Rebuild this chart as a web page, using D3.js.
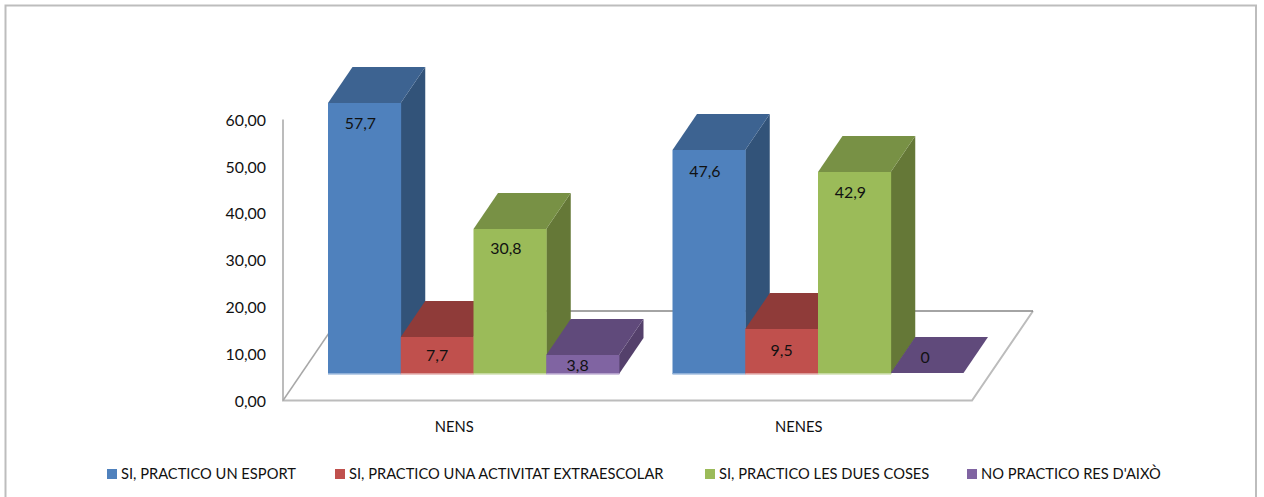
<!DOCTYPE html>
<html><head><meta charset="utf-8">
<script src="https://cdn.jsdelivr.net/npm/d3@7"></script>
<style>html,body{margin:0;padding:0;background:#fff;overflow:hidden}svg{display:block}text{font-family:Lato,"Open Sans",sans-serif;fill:#111}</style>
</head><body>
<svg id="c" width="1264" height="497"></svg>
<script>
const categories = ["NENS", "NENES"];
const seriesNames = ["SI, PRACTICO UN ESPORT", "SI, PRACTICO UNA ACTIVITAT EXTRAESCOLAR", "SI, PRACTICO LES DUES COSES", "NO PRACTICO RES D'AIXÒ"];
const nens = [57.7, 7.7, 30.8, 3.8];
const nenes = [47.6, 9.5, 42.9, 0];
const valueLabels = [["57,7", "7,7", "30,8", "3,8"], ["47,6", "9,5", "42,9", "0"]];
const yTicks = [0, 10, 20, 30, 40, 50, 60];
const frontColors = ["#4f81bd", "#c0504d", "#9bbb59", "#8064a2"];
const topColors = ["#3d6391", "#8f3b39", "#789145", "#604a7b"];
const sideColors = ["#325379", "#7a3230", "#657837", "#54406b"];
const baseColors = ["#8fb0d8", "#dc9c9a", "#c5d99f", "#b3a0cb"];

const svg = d3.select("#c");
const fl = {left: 283, right: 972, bottom: 400.5};
const depth = {dx: 24.5, dy: 36};          // bar depth
const floorDepth = {dx: 61, dy: 89.5};     // floor depth
const lift = 26.5;                          // bar base above the floor front edge

const y = d3.scaleLinear().domain([0, 60]).range([400.5, 119.5]);
const x0 = d3.scaleBand().domain(categories).range([fl.left, fl.right]);
const x1 = d3.scaleBand().domain(d3.range(4)).range([45, 336]);

// outer frame
svg.append("path").attr("d", "M5.5,497V5.5H1256V497").attr("fill", "none").attr("stroke", "#bdbdbd").attr("stroke-width", 2);

// walls and floor
const wall = svg.append("g").attr("fill", "none");
wall.append("path").attr("d", `M${fl.left},${y(60)}V${fl.bottom}H${fl.right}L${fl.right + floorDepth.dx},${fl.bottom - floorDepth.dy}`).attr("stroke", "#bcbcbc").attr("stroke-width", 2);
wall.append("path").attr("d", `M${fl.left},${fl.bottom}L${fl.left + floorDepth.dx},${fl.bottom - floorDepth.dy}`).attr("stroke", "#a8a8a8").attr("stroke-width", 1.5);
wall.append("path").attr("d", `M${fl.left + floorDepth.dx},${fl.bottom - floorDepth.dy}H${fl.right + floorDepth.dx}`).attr("stroke", "#868686").attr("stroke-width", 1.6);

// axes
const fmt = d3.formatLocale({decimal: ",", thousands: ".", grouping: [3], currency: ["", ""]}).format(".2f");
const yAxis = svg.append("g").attr("transform", "translate(270,0)")
  .call(d3.axisLeft(y).tickValues(yTicks).tickFormat(fmt).tickSize(0).tickPadding(4));
yAxis.select(".domain").remove();
yAxis.selectAll("text").attr("font-size", 15.9).attr("dy", "0.36em");

const xAxis = svg.append("g").attr("transform", "translate(-1,420)")
  .call(d3.axisBottom(x0).tickSize(0).tickPadding(0));
xAxis.select(".domain").remove();
xAxis.selectAll("text").attr("font-size", 14.7).attr("dy", "0.8em");

// bars
const data = [nens, nenes];
const labelDx = [-4, 0, -4, -5];
const labelDy = [20, 17, 19, 9];
categories.forEach((c, ci) => {
  const g = svg.append("g");
  data[ci].forEach((v, si) => {
    const xl = x0(c) + x1(si), w = x1.bandwidth(), xr = xl + w;
    const base = Math.round(y(0) - lift), top = Math.floor(y(v) - lift - 0.5);
    const b = g.append("g");
    if (v > 0) {
      b.append("path").attr("d", `M${xr},${top}l${depth.dx},${-depth.dy}V${base - depth.dy}L${xr},${base}Z`).attr("fill", sideColors[si]);
      b.append("rect").attr("x", xl).attr("y", top).attr("width", w + .4).attr("height", base - top).attr("fill", frontColors[si]);
      b.append("rect").attr("x", xl).attr("y", base - 1).attr("width", w + .4).attr("height", 1.6).attr("fill", baseColors[si]);
    }
    b.append("path").attr("d", `M${xl},${top}l${depth.dx},${-depth.dy}H${xr + depth.dx}L${xr},${top}Z`).attr("fill", topColors[si]);
  });
  data[ci].forEach((v, si) => {
    const cx = x0(c) + x1(si) + x1.bandwidth() / 2;
    const dyv = v === 0 ? -17 : (ci === 1 && si === 1 ? 21 : labelDy[si]);
    const dxv = v === 0 ? -2 : (ci === 1 && si === 1 ? 0 : labelDx[si]);
    svg.append("text").attr("x", cx + dxv).attr("y", y(v) - lift + dyv).attr("dy", "0.36em")
      .attr("text-anchor", "middle").attr("font-size", 15.9).text(valueLabels[ci][si]);
  });
});

// legend
const legendX = d3.scaleOrdinal().domain(seriesNames).range([107, 335, 705, 967]);
const leg = svg.append("g");
seriesNames.forEach((s, i) => {
  leg.append("rect").attr("x", legendX(s)).attr("y", 469).attr("width", 10).attr("height", 10).attr("fill", frontColors[i]);
  leg.append("text").attr("x", legendX(s) + 14).attr("y", 474).attr("dy", "0.36em").attr("font-size", 14.7).text(s);
});
</script>
</body></html>
